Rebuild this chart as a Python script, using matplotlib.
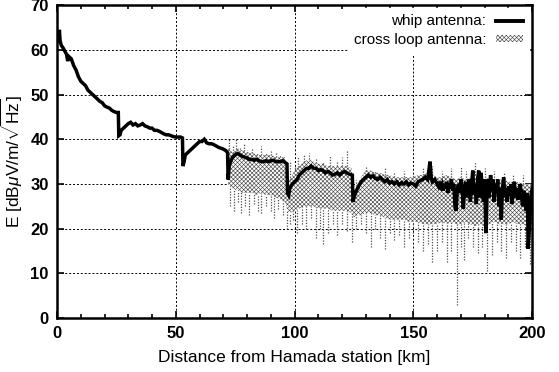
import numpy as np
import matplotlib.pyplot as plt
from matplotlib.patches import Patch
from matplotlib.lines import Line2D

plt.rcParams['font.family'] = ['Liberation Sans', 'DejaVu Sans']
plt.rcParams['mathtext.fontset'] = 'custom'
plt.rcParams['mathtext.rm'] = 'Liberation Sans'
plt.rcParams['mathtext.it'] = 'Liberation Sans:italic'
plt.rcParams['hatch.linewidth'] = 0.45

# whip antenna trace (distance km, field dB)
whip_d = [0.5, 1.0, 1.3, 1.8, 2.5, 3, 4, 4.5, 5, 6, 7, 8, 9, 10, 11, 12, 13, 14, 15, 16,
          17, 18, 19, 20, 21, 22, 23, 24, 25, 25.8, 26, 26.5, 27, 28, 29, 30, 31, 32, 33, 34,
          35, 36, 37, 38, 39, 40, 41, 42, 43, 44, 45, 46, 47, 48, 49, 50, 51, 52, 52.8, 53,
          53.5, 54, 55, 56, 57, 58, 59, 60, 61, 62, 63, 64, 65, 66, 67, 68, 69, 70, 71, 71.8,
          72, 72.5, 73, 74, 75, 76, 77, 78, 79, 80, 81, 82, 83, 84, 85, 86, 87, 88, 89, 90,
          91, 92, 93, 94, 95, 96, 96.8, 97, 97.5, 98, 99, 100, 101, 102, 103, 104, 105, 106,
          107, 108, 109, 110, 111, 112, 113, 114, 115, 116, 117, 118, 119, 120, 121, 122,
          123, 124.3, 124.6, 125, 126, 127, 128, 129, 130, 131, 132, 133, 134, 135, 136, 137,
          138, 139, 140, 141, 142, 143, 144, 145, 146, 147, 148, 149, 150, 151, 152, 153, 154,
          155, 156, 156.5, 157, 157.5, 158, 159,
          160, 160.5, 161, 161.5, 162, 162.5, 163, 163.5, 164, 164.5, 165, 165.5, 166, 166.5,
          167, 167.5, 168, 168.5, 169, 169.5, 170, 170.5, 171, 171.5, 172, 172.5, 173, 173.5,
          174, 174.5, 175, 175.5, 176, 176.5, 177, 177.5, 178, 178.5, 179, 179.5, 180, 180.5,
          181, 181.5, 182, 182.5, 183, 183.5, 184, 184.5, 185, 185.5, 186, 186.5, 187, 187.5,
          188, 188.5, 189, 189.5, 190, 190.5, 191, 191.5, 192, 192.5, 193, 193.5, 194, 194.5,
          195, 195.5, 196, 196.5, 197, 197.5, 198, 198.3, 198.6, 199, 199.5, 200]
whip_e = [62, 64.5, 62, 61, 60.5, 60, 59, 57.5, 58.5, 58, 56.5, 55.5, 54, 53, 52.5, 52, 51, 50.5, 50, 49.5,
          49, 48.5, 48.2, 47.5, 47.2, 47, 46.5, 46.2, 46, 46, 40.8, 41, 42, 42.5, 43, 43.5, 43.8, 43.2, 43.5, 43,
          43.2, 43.5, 43, 42.8, 42.5, 42.5, 42, 42, 41.8, 41.5, 41.2, 41, 41, 40.8, 40.6, 40.5, 40.5, 40.5, 40.3, 34,
          35, 36.5, 37, 37.5, 38, 38.5, 39, 39.5, 39.5, 40, 39.2, 39, 39, 38.8, 38.5, 38.2, 38, 37.8, 37.5, 37,
          31, 34, 35, 36, 36.5, 36.8, 36.5, 36.2, 36, 35.8, 35.5, 35.5, 35.3, 35.5, 35.2, 35, 35, 35.2, 35, 35.2,
          35.3, 35, 35, 35, 35.2, 34.8, 34.5, 28, 27.5, 29, 30, 30.5, 31, 32, 32.5, 33, 33.5, 33.5,
          34, 33.5, 33.5, 33, 33.2, 33, 32.5, 32.8, 32.5, 32, 32.2, 32.5, 32, 32.5, 32.8, 32.5,
          32.2, 32, 26, 27, 28.5, 29.5, 30.5, 31, 31.5, 32, 31.5, 31.8, 31.2, 31, 31.5, 31,
          30.5, 31, 30.2, 30.5, 30, 30.5, 29.8, 30.3, 30, 30.5, 29.8, 30.2, 30, 29.5, 30.5, 30.8, 31,
          31.5, 31, 33, 35, 31.5, 30.5, 31,
          30, 29.5, 30.5, 29.5, 30, 28.5, 30, 29, 30.5, 28, 30, 29, 31, 28.5,
          30, 25, 24, 29, 30, 28, 31, 29, 24.5, 29, 30.5, 27, 29.5, 31,
          26, 30, 33, 27.5, 30, 25.5, 31, 33, 27, 32.5, 29, 26, 31, 19,
          28, 31, 27, 32, 28.5, 31, 26, 30, 28, 31, 25, 29, 22, 29,
          31.5, 27, 29, 26, 29.5, 27.5, 30, 25.5, 28, 30.5, 27, 29, 26.5, 28,
          30, 27, 25, 28.5, 27, 24, 28, 15.5, 18, 22, 27, 29]

# cross loop antenna: dense band (upper / lower edge)
loop_d = [72, 74, 76, 78, 80, 82, 84, 86, 88, 90, 92, 94, 96, 97, 98, 100, 102, 104, 106, 108,
          110, 112, 114, 116, 118, 120, 122, 124, 125, 126, 128, 130, 132, 134, 136, 138, 140,
          142, 144, 146, 148, 150, 152, 154, 156, 158, 160, 162, 164, 166, 168, 170, 172, 174,
          176, 178, 180, 182, 184, 186, 188, 190, 192, 194, 196, 198, 200]
loop_hi = [38, 37, 38, 37.5, 37, 37, 36.5, 36.5, 36.5, 36.5, 36, 36, 36, 30, 31, 33, 34, 35, 35.5, 35,
           34.5, 34.5, 34, 34, 34, 34, 34, 33.5, 28, 29.5, 31.5, 33, 33, 32.5, 32.5, 32, 32,
           31.5, 31.5, 31.5, 31.5, 31.5, 32, 32, 32.5, 32, 31.5, 31.5, 32, 31.5, 31, 31.5, 31, 31.5,
           32, 31.5, 31, 31.5, 31, 31, 31, 30.5, 30.5, 30.5, 30, 30, 30]
loop_lo = [30, 29, 28.5, 28, 28, 28, 27.5, 28, 27.5, 27.5, 27, 26.5, 26, 24, 23.5, 24, 24.5, 25, 25, 25,
           24.5, 24.5, 24.5, 24, 24, 24, 24, 23.5, 22.5, 23, 23, 23.5, 23.5, 23, 23, 22.5, 22,
           22, 22, 22, 21.5, 21.5, 21.5, 21, 21, 21, 21, 21.5, 21, 21.5, 21, 21, 21.5, 21,
           20.5, 21, 20.5, 21, 21.5, 21, 21, 21, 21.5, 21, 21, 20.5, 21]

# downward spikes of the cross loop signal
down_d = [73, 74.5, 76, 77.5, 79, 81, 83, 84.5, 86, 88, 90, 91.5, 93, 95, 97, 98, 99.5, 101, 103, 105,
          107, 109, 110.5, 112, 114, 116, 118, 120, 122, 124, 126, 128, 130, 132, 134, 136, 138, 140,
          142, 144, 146, 148, 150, 152, 154, 156, 158, 160, 162, 164, 166, 168.4, 170, 171.5, 173, 175,
          177, 179, 181, 183, 185, 187, 189, 191, 193, 195, 197, 199]
down_e = [25, 24, 26, 23.5, 25, 23, 25.5, 24, 23.5, 25, 24, 22.5, 24.5, 23, 20, 21, 22, 19, 21, 20,
          22.5, 18, 20, 16.5, 19, 21, 18.5, 21, 19.5, 17, 20, 21, 19, 16, 20, 18, 15.5, 19,
          17.5, 18.5, 16, 18, 19, 17, 15, 16.5, 12.5, 15, 17, 12.5, 15, 3, 16, 13, 18, 16,
          14.5, 16, 10.5, 14, 17, 15, 13.5, 17, 15, 13.5, 16, 12]

# upward spikes
up_d = [72.5, 74, 75.5, 77, 78.5, 80, 82, 84, 86, 88, 90, 92, 94, 98, 100, 101.5, 104, 106, 109, 112,
        115, 118, 120, 122, 126, 130, 134, 138, 142, 146, 150, 154, 158, 162, 166, 170, 172, 176,
        180, 184, 188, 192, 196]
up_e = [40, 38.5, 40, 38, 39, 37.5, 38, 37, 38.5, 37, 37.5, 37, 36.5, 35, 34, 36, 36.5, 37, 35.5, 35,
        36.5, 35, 36, 37.6, 31, 34, 33, 33.5, 32.5, 33, 32, 33.5, 34, 33, 33.5, 34, 33, 35,
        33.5, 33, 32.5, 32, 32]

fig = plt.figure(figsize=(5.59, 3.72), dpi=100)
ax = fig.add_axes([0.102, 0.145, 0.85, 0.841])

ax.fill_between(loop_d, loop_lo, loop_hi, facecolor='white', edgecolor='0.3',
                hatch='xxxxxxxx', linewidth=0, zorder=2)
lo_at_down = np.interp(down_d, loop_d, loop_lo)
ax.vlines(down_d, down_e, lo_at_down, colors='0.3', linestyles=(0, (1, 1.2)),
          linewidth=0.9, zorder=2)
hi_at_up = np.interp(up_d, loop_d, loop_hi)
ax.vlines(up_d, hi_at_up, up_e, colors='0.3', linestyles=(0, (1, 1.2)),
          linewidth=0.9, zorder=2)

ax.plot(whip_d, whip_e, color='black', linewidth=2.5, solid_joinstyle='miter', zorder=3)

ax.set_xlim(0, 200)
ax.set_ylim(0, 70)
ax.set_xticks([0, 50, 100, 150, 200])
ax.set_xticks(np.arange(0, 201, 10), minor=True)
ax.set_yticks(np.arange(0, 71, 10))
ax.grid(True, which='major', color='black', linestyle=(0, (2, 2)), linewidth=0.7)
ax.tick_params(which='both', direction='in', top=True, right=True,
               labelsize=12, width=1.2)
ax.tick_params(which='major', length=5, pad=6)
ax.tick_params(which='minor', length=3)
for lab in ax.get_xticklabels() + ax.get_yticklabels():
    lab.set_fontweight('bold')
for s in ax.spines.values():
    s.set_linewidth(1.8)

ax.set_xlabel('Distance from Hamada station [km]', fontsize=12.5, labelpad=6)
ax.set_ylabel(r'E [dB$\mu$V/m/$\sqrt{\mathrm{Hz}}$]', fontsize=12.5, labelpad=4)

handles = [Line2D([], [], color='black', linewidth=2.8),
           Patch(facecolor='white', edgecolor='0.3', hatch='xxxxxxxx', linewidth=0)]
leg = ax.legend(handles, ['whip antenna:', 'cross loop antenna:'], loc='upper right',
                frameon=True, fancybox=False, framealpha=1, edgecolor='white',
                markerfirst=False, fontsize=11, handlelength=1.8, handleheight=0.4,
                borderaxespad=0.2, labelspacing=0.3, handletextpad=0.6)
leg.set_zorder(5)

fig.savefig('out.png', dpi=100)
